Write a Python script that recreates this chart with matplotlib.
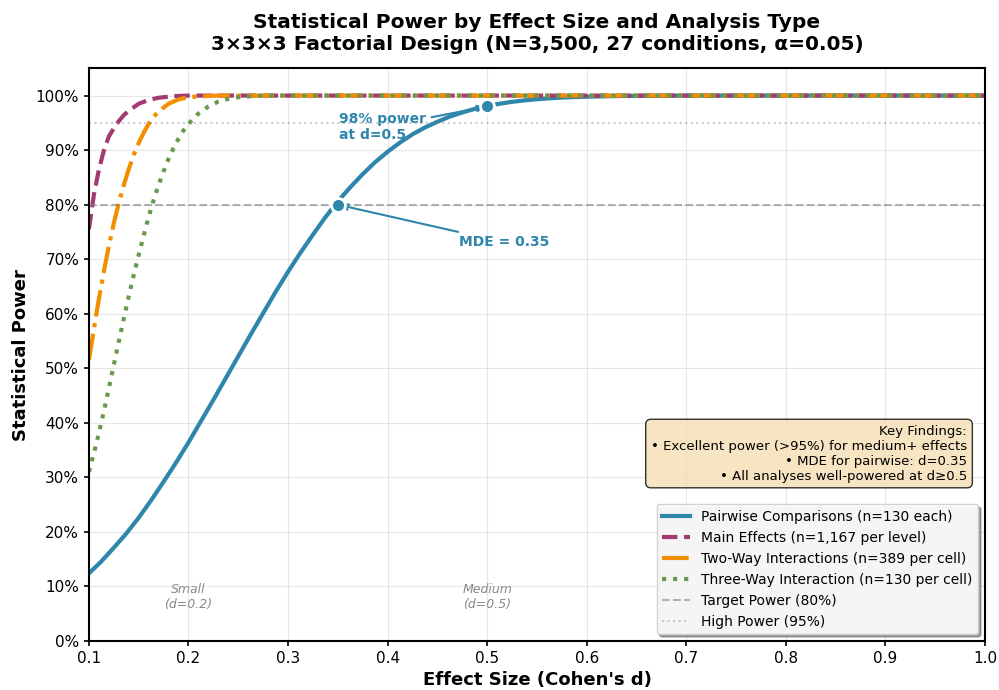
import matplotlib
matplotlib.use("Agg")
import matplotlib.pyplot as plt
from matplotlib.ticker import PercentFormatter

# pairwise comparisons (n=130 each)
d_pair = [0.1000, 0.1125, 0.1250, 0.1375, 0.1500, 0.1625, 0.1750, 0.1875, 0.2000,
          0.2125, 0.2250, 0.2375, 0.2500, 0.2625, 0.2750, 0.2875, 0.3000, 0.3125,
          0.3250, 0.3375, 0.3500, 0.3625, 0.3750, 0.3875, 0.4000, 0.4125, 0.4250,
          0.4375, 0.4500, 0.4625, 0.4750, 0.4875, 0.5000, 0.5125, 0.5250, 0.5375,
          0.5500, 0.5625, 0.5750, 0.5875, 0.6000, 0.6250, 0.6500, 0.6750, 0.7000,
          0.8000, 0.9000, 1.0000]
p_pair = [0.124, 0.146, 0.171, 0.197, 0.226, 0.258, 0.292, 0.327, 0.364,
          0.403, 0.442, 0.482, 0.522, 0.562, 0.601, 0.640, 0.677, 0.712,
          0.745, 0.777, 0.806, 0.832, 0.856, 0.878, 0.897, 0.914, 0.929,
          0.9415, 0.952, 0.9615, 0.969, 0.9756, 0.981, 0.9851, 0.9885, 0.9912,
          0.9933, 0.9950, 0.9963, 0.9972, 0.998, 0.9990, 0.9995, 0.99975, 0.9999,
          1.0, 1.0, 1.0]

# main effects (n=1,167 per level)
d_main = [0.100, 0.105, 0.110, 0.115, 0.120, 0.125, 0.130, 0.135, 0.140, 0.150,
          0.160, 0.170, 0.185, 0.200, 1.000]
p_main = [0.755, 0.818, 0.864, 0.899, 0.925, 0.940, 0.953, 0.964, 0.972, 0.985,
          0.992, 0.996, 0.999, 1.0, 1.0]

# two-way interactions (n=389 per cell)
d_two = [0.100, 0.105, 0.110, 0.115, 0.120, 0.125, 0.130, 0.135, 0.140, 0.145,
         0.150, 0.155, 0.160, 0.165, 0.170, 0.180, 0.190, 0.200, 0.215, 0.230, 1.000]
p_two = [0.515, 0.572, 0.627, 0.678, 0.724, 0.766, 0.803, 0.836, 0.865, 0.891,
         0.913, 0.932, 0.948, 0.961, 0.971, 0.985, 0.993, 0.997, 0.999, 1.0, 1.0]

# three-way interaction (n=130 per cell)
d_three = [0.100, 0.105, 0.110, 0.115, 0.120, 0.125, 0.130, 0.135, 0.140, 0.145,
           0.150, 0.155, 0.160, 0.165, 0.170, 0.175, 0.180, 0.185, 0.190, 0.195,
           0.200, 0.210, 0.220, 0.230, 0.240, 0.250, 0.265, 0.280, 1.000]
p_three = [0.310, 0.344, 0.381, 0.421, 0.463, 0.506, 0.549, 0.591, 0.632, 0.671,
           0.708, 0.743, 0.778, 0.808, 0.836, 0.861, 0.884, 0.904, 0.921, 0.936,
           0.948, 0.967, 0.980, 0.989, 0.994, 0.997, 0.999, 1.0, 1.0]

target_power = 0.80
high_power = 0.95
mde_d, mde_p = 0.35, 0.80
med_d, med_p = 0.50, 0.98

effect_labels = ["Small\n(d=0.2)", "Medium\n(d=0.5)", "Large\n(d=0.8)"]
effect_d = [0.2, 0.5, 0.8]

blue = "#2E86AB"
purple = "#A23B72"
orange = "#F18F01"
green = "#6A994E"

fig, ax = plt.subplots(figsize=(9.99, 6.9), dpi=100)
fig.subplots_adjust(left=0.089, right=0.986, top=0.901, bottom=0.071)

ax.plot(d_pair, p_pair, color=blue, lw=3, label="Pairwise Comparisons (n=130 each)")
ax.plot(d_main, p_main, color=purple, lw=3, ls="--", label="Main Effects (n=1,167 per level)")
ax.plot(d_two, p_two, color=orange, lw=3, ls="-.", label="Two-Way Interactions (n=389 per cell)")
ax.plot(d_three, p_three, color=green, lw=3, ls=":", label="Three-Way Interaction (n=130 per cell)")
ax.axhline(target_power, color="gray", ls="--", lw=1.5, alpha=0.6, label="Target Power (80%)")
ax.axhline(high_power, color="gray", ls=":", lw=1.5, alpha=0.4, label="High Power (95%)")

ax.plot([mde_d, med_d], [mde_p, med_p], "o", color=blue, markersize=10,
        markeredgecolor="white", markeredgewidth=2, zorder=5)

ax.annotate("MDE = 0.35", xy=(mde_d, mde_p), xytext=(0.517, 0.731),
            ha="center", va="center", fontsize=10, fontweight="bold", color=blue,
            arrowprops=dict(arrowstyle="->", color=blue, lw=1.5))
ax.annotate("98% power\nat d=0.5", xy=(med_d, med_p), xytext=(0.395, 0.943),
            ha="center", va="center", multialignment="left", fontsize=10,
            fontweight="bold", color=blue,
            arrowprops=dict(arrowstyle="->", color=blue, lw=1.5))

for lab, dv in zip(effect_labels, effect_d):
    ax.text(dv, 0.08, lab, ha="center", va="center", fontsize=9,
            style="italic", color="dimgray", alpha=0.8, zorder=1)

ax.text(0.98, 0.378,
        "Key Findings:\n• Excellent power (>95%) for medium+ effects\n"
        "• MDE for pairwise: d=0.35\n• All analyses well-powered at d≥0.5",
        transform=ax.transAxes, ha="right", va="top", fontsize=9.5,
        bbox=dict(boxstyle="round,pad=0.4", facecolor="wheat", alpha=0.8,
                  edgecolor="black"))

ax.set_xlim(0.1, 1.0)
ax.set_ylim(0, 1.05)
ax.set_xticks([0.1, 0.2, 0.3, 0.4, 0.5, 0.6, 0.7, 0.8, 0.9, 1.0])
ax.set_yticks([i / 10 for i in range(11)])
ax.yaxis.set_major_formatter(PercentFormatter(1.0, decimals=0))
ax.tick_params(labelsize=11, width=1.2)
ax.grid(True, alpha=0.3)
for s in ax.spines.values():
    s.set_linewidth(1.5)

ax.set_xlabel("Effect Size (Cohen's d)", fontsize=13, fontweight="bold")
ax.set_ylabel("Statistical Power", fontsize=13, fontweight="bold")
ax.set_title("Statistical Power by Effect Size and Analysis Type\n"
             "3×3×3 Factorial Design (N=3,500, 27 conditions, α=0.05)",
             fontsize=14.5, fontweight="bold", pad=13)

leg = ax.legend(loc="lower right", fontsize=10, framealpha=0.9, shadow=True, fancybox=True)
leg.set_zorder(10)

fig.savefig("out.png", dpi=100)
